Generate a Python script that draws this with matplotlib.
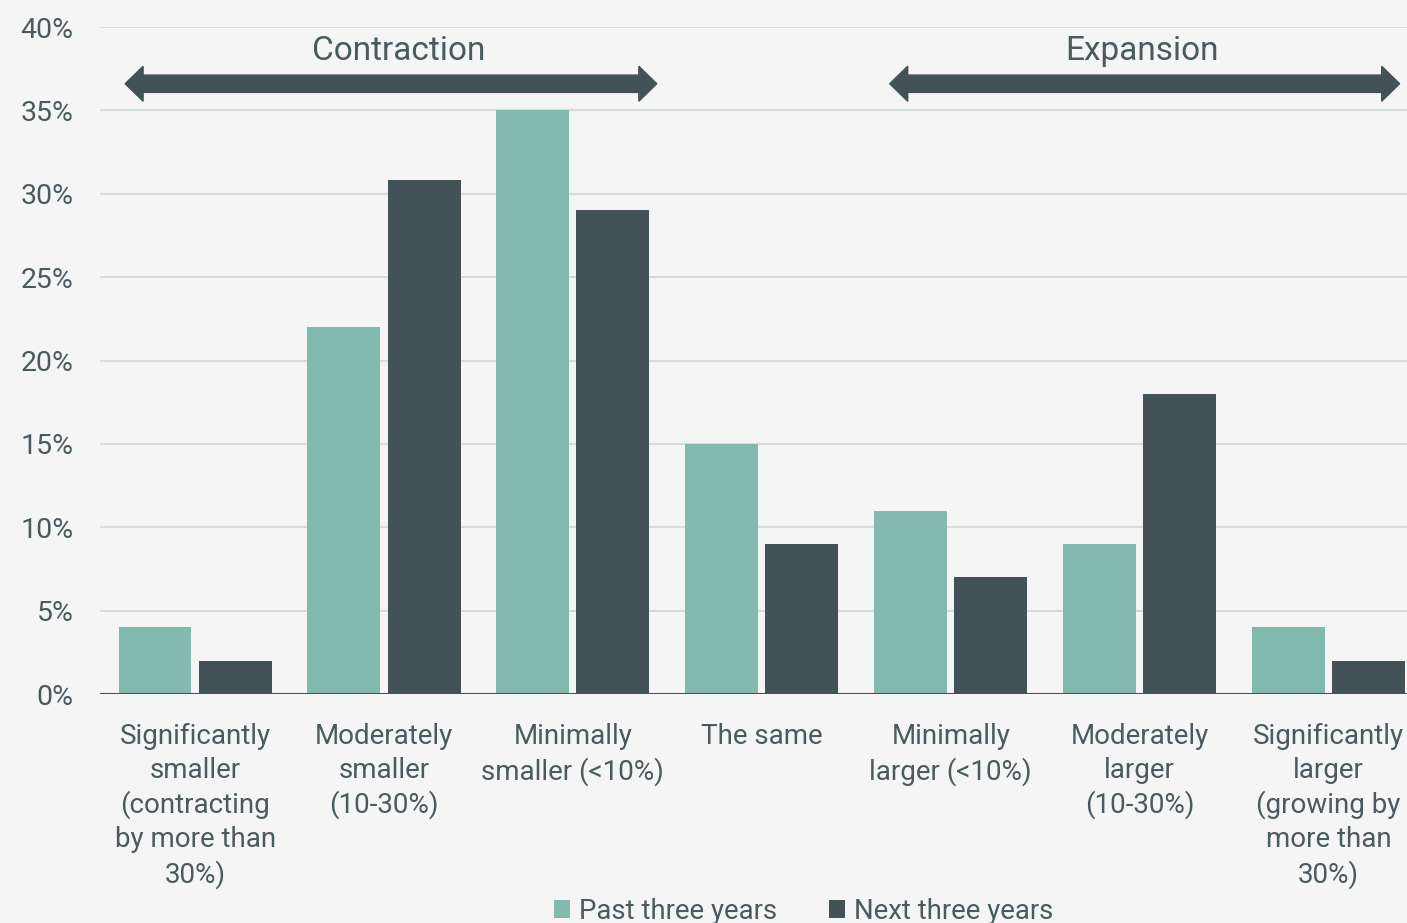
import numpy as np
import matplotlib
matplotlib.use("Agg")
import matplotlib.pyplot as plt
from matplotlib.patches import Polygon

# --- Survey data ---
categories = [
    "Significantly\nsmaller\n(contracting\nby more than\n30%)",
    "Moderately\nsmaller\n(10-30%)",
    "Minimally\nsmaller (<10%)",
    "The same",
    "Minimally\nlarger (<10%)",
    "Moderately\nlarger\n(10-30%)",
    "Significantly\nlarger\n(growing by\nmore than\n30%)",
]
past_three_years = [4, 22, 35, 15, 11, 9, 4]
next_three_years = [2, 30.8, 29, 9, 7, 18, 2]
series_names = ["Past three years", "Next three years"]

bg = "#f5f5f5"
teal = "#82bbad"
slate = "#435257"
text_col = "#4b5a5e"
grid_col = "#d5dddb"

plt.rcParams['font.family'] = ['Roboto', 'DejaVu Sans']

fig = plt.figure(figsize=(14.07, 9.23), dpi=100, facecolor=bg)
ax = fig.add_axes([0.0711, 0.2481, 0.9289, 0.7226], facecolor=bg)

x = np.arange(len(categories))
w = 0.386
off = 0.212
ax.bar(x - off, past_three_years, w, color=teal, label=series_names[0], zorder=3)
ax.bar(x + off, next_three_years, w, color=slate, label=series_names[1], zorder=3)

ax.set_xlim(-0.503, 6.415)
ax.set_ylim(0, 40)
ax.set_yticks(range(0, 41, 5))
ax.set_yticklabels([f"{v}%" for v in range(0, 41, 5)])
ax.yaxis.grid(True, color=grid_col, lw=1.5, zorder=0)
ax.set_axisbelow(True)
for s in ["top", "right", "left", "bottom"]:
    ax.spines[s].set_visible(False)
ax.axhline(0, color=slate, lw=2.2, zorder=4)

ax.tick_params(axis="y", length=0, pad=19, labelsize=20.5, labelcolor=text_col)
ax.set_xticks(x)
ax.set_xticklabels(categories, fontsize=20, color=text_col, linespacing=1.31, va="top")
ax.tick_params(axis="x", length=0, pad=21)


def double_arrow(ax, x0, x1, y, half_shaft=0.52, half_head=1.05, head_len=0.095):
    pts = [
        (x0, y),
        (x0 + head_len, y + half_head),
        (x0 + head_len, y + half_shaft),
        (x1 - head_len, y + half_shaft),
        (x1 - head_len, y + half_head),
        (x1, y),
        (x1 - head_len, y - half_head),
        (x1 - head_len, y - half_shaft),
        (x0 + head_len, y - half_shaft),
        (x0 + head_len, y - half_head),
    ]
    ax.add_patch(Polygon(pts, closed=True, color=slate, zorder=5, clip_on=False))


# Contraction / expansion brackets
double_arrow(ax, -0.37, 2.444, 36.6)
double_arrow(ax, 3.677, 6.376, 36.6)
ax.text(1.079, 38.55, "Contraction", ha="center", va="center", fontsize=24, color=text_col)
ax.text(5.011, 38.55, "Expansion", ha="center", va="center", fontsize=24, color=text_col)

fig.legend(loc="center", bbox_to_anchor=(0.571, 0.013), ncol=2, frameon=False,
           fontsize=19.8, labelcolor=text_col, handlelength=0.6, handleheight=0.6,
           handletextpad=0.3, columnspacing=1.9)

fig.savefig("out.png", dpi=100, facecolor=bg)
